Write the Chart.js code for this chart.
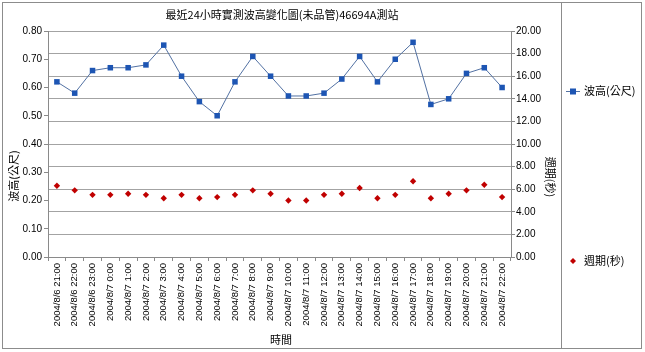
<!DOCTYPE html>
<html>
<head>
<meta charset="utf-8">
<script src="https://cdn.jsdelivr.net/npm/chart.js@4.4.0/dist/chart.umd.min.js"></script>
<style>
  html, body { margin: 0; padding: 0; background: #fff; }
  canvas { display: block; }
</style>
</head>
<body>
<canvas id="waveChart" width="645" height="352"></canvas>
<script>
// ─── DATI ─────────────────────────────────────────────────────────
const timeLabels = [
  "2004/8/6 21:00", "2004/8/6 22:00", "2004/8/6 23:00",
  "2004/8/7 0:00", "2004/8/7 1:00", "2004/8/7 2:00", "2004/8/7 3:00",
  "2004/8/7 4:00", "2004/8/7 5:00", "2004/8/7 6:00", "2004/8/7 7:00",
  "2004/8/7 8:00", "2004/8/7 9:00", "2004/8/7 10:00", "2004/8/7 11:00",
  "2004/8/7 12:00", "2004/8/7 13:00", "2004/8/7 14:00", "2004/8/7 15:00",
  "2004/8/7 16:00", "2004/8/7 17:00", "2004/8/7 18:00", "2004/8/7 19:00",
  "2004/8/7 20:00", "2004/8/7 21:00", "2004/8/7 22:00",
];
const waveHeight = [
  0.62, 0.58, 0.66, 0.67, 0.67, 0.68, 0.75, 0.64, 0.55, 0.50, 0.62, 0.71, 0.64,
  0.57, 0.57, 0.58, 0.63, 0.71, 0.62, 0.70, 0.76, 0.54, 0.56, 0.65, 0.67, 0.60,
];
const wavePeriod = [
  6.3, 5.9, 5.5, 5.5, 5.6, 5.5, 5.2, 5.5, 5.2, 5.3, 5.5, 5.9, 5.6,
  5.0, 5.0, 5.5, 5.6, 6.1, 5.2, 5.5, 6.7, 5.2, 5.6, 5.9, 6.4, 5.3,
];
const heightAxis = { min: 0, max: 0.8, step: 0.1 };
const periodAxis = { min: 0, max: 20, step: 2 };

const chartTitle = "最近24小時實測波高變化圖(未品管)46694A測站";
const heightLabel = "波高(公尺)";
const periodLabel = "週期(秒)";
const timeLabel = "時間";

const NUM_FONT = '"Liberation Sans", Arial, sans-serif';
const CJK_FONT = '"Noto Sans CJK TC", "Noto Sans CJK SC", sans-serif';
const LINE_BLUE = "#5271a3";
const MARK_BLUE = "#1d55b3";
const MARK_RED = "#c00000";
const GRID = "#a3a3a3";
const AXIS = "#8a8a8a";

// ─── CORNICE, TITOLI, LEGENDA ─────────────────────────────────────
const frame = {
  id: "frame",
  beforeDraw(chart) {
    const ctx = chart.ctx;
    ctx.save();
    ctx.fillStyle = "#fff";
    ctx.fillRect(0, 0, chart.width, chart.height);
    ctx.restore();
  },
  afterDraw(chart) {
    const ctx = chart.ctx;
    ctx.save();
    ctx.strokeStyle = "#8c8c8c";
    ctx.lineWidth = 1;
    ctx.strokeRect(2.5, 2.5, 559, 346);
    ctx.strokeRect(561.5, 2.5, 80, 346);

    ctx.fillStyle = "#000";
    ctx.textAlign = "center";
    ctx.textBaseline = "middle";
    ctx.font = "11px " + CJK_FONT;
    ctx.fillText(chartTitle, 282, 15);
    ctx.fillText(timeLabel, 281, 340);

    ctx.save();
    ctx.translate(14, 176);
    ctx.rotate(-Math.PI / 2);
    ctx.fillText(heightLabel, 0, 0);
    ctx.restore();

    ctx.save();
    ctx.translate(550, 177);
    ctx.rotate(Math.PI / 2);
    ctx.fillText(periodLabel, 0, 0);
    ctx.restore();

    // legenda
    ctx.strokeStyle = LINE_BLUE;
    ctx.beginPath();
    ctx.moveTo(566, 91.5);
    ctx.lineTo(580, 91.5);
    ctx.stroke();
    ctx.fillStyle = MARK_BLUE;
    ctx.fillRect(570, 88.5, 6, 6);
    ctx.fillStyle = MARK_RED;
    ctx.beginPath();
    ctx.moveTo(573, 258);
    ctx.lineTo(576, 261);
    ctx.lineTo(573, 264);
    ctx.lineTo(570, 261);
    ctx.closePath();
    ctx.fill();

    ctx.fillStyle = "#000";
    ctx.textAlign = "left";
    ctx.fillText(heightLabel, 584, 91);
    ctx.fillText(periodLabel, 584, 261);
    ctx.restore();
  },
};

// ─── GRAFICO ──────────────────────────────────────────────────────
new Chart(document.getElementById("waveChart"), {
  type: "line",
  data: {
    labels: timeLabels,
    datasets: [
      {
        label: heightLabel,
        data: waveHeight,
        yAxisID: "y",
        borderColor: LINE_BLUE,
        borderWidth: 1,
        pointStyle: "rect",
        pointRadius: 3.9,
        pointBackgroundColor: MARK_BLUE,
        pointBorderColor: MARK_BLUE,
        pointBorderWidth: 0,
        tension: 0,
      },
      {
        label: periodLabel,
        data: wavePeriod,
        yAxisID: "y2",
        showLine: false,
        pointStyle: "rectRot",
        pointRadius: 3.2,
        pointBackgroundColor: MARK_RED,
        pointBorderColor: MARK_RED,
        pointBorderWidth: 0,
      },
    ],
  },
  options: {
    responsive: false,
    animation: false,
    events: [],
    layout: { padding: { top: 31, left: 0, right: 0, bottom: 0 } },
    plugins: {
      legend: { display: false },
      tooltip: { enabled: false },
    },
    scales: {
      x: {
        offset: true,
        grid: {
          offset: true,
          drawOnChartArea: false,
          tickLength: 4,
          tickColor: AXIS,
        },
        border: { color: AXIS },
        ticks: {
          autoSkip: false,
          minRotation: 90,
          maxRotation: 90,
          padding: 2,
          color: "#000",
          font: { family: NUM_FONT, size: 9.5 },
        },
        afterFit: (s) => { s.height = 95; },
      },
      y: {
        position: "left",
        min: heightAxis.min,
        max: heightAxis.max,
        grid: { drawOnChartArea: false, tickLength: 4, tickColor: AXIS },
        border: { color: AXIS },
        ticks: {
          stepSize: heightAxis.step,
          padding: 2,
          color: "#000",
          font: { family: NUM_FONT, size: 10 },
          callback: (v) => Number(v).toFixed(2),
        },
        afterFit: (s) => { s.width = 48; },
      },
      y2: {
        position: "right",
        min: periodAxis.min,
        max: periodAxis.max,
        grid: { color: GRID, tickLength: 4, tickColor: AXIS },
        border: { color: AXIS },
        ticks: {
          stepSize: periodAxis.step,
          padding: 1,
          color: "#000",
          font: { family: NUM_FONT, size: 10 },
          callback: (v) => Number(v).toFixed(2),
        },
        afterFit: (s) => { s.width = 134; },
      },
    },
  },
  plugins: [frame],
});
</script>
</body>
</html>
